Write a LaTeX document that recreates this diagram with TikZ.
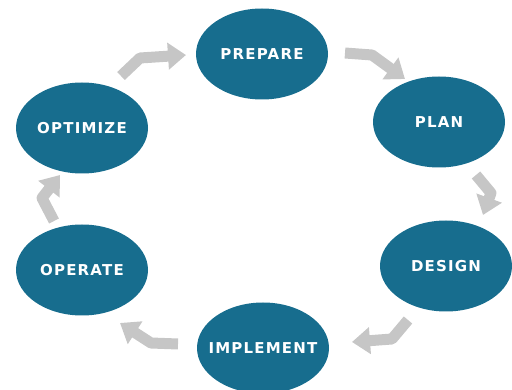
\documentclass[tikz,border=0pt]{standalone}
\usepackage{fontspec}
\setmainfont{DejaVu Sans}[LetterSpace=8]
\usetikzlibrary{arrows.meta,shapes.geometric}
\definecolor{phase}{HTML}{176D8E}
\definecolor{flow}{HTML}{C6C6C6}
\begin{document}
\begin{tikzpicture}[x=1pt,y=-1pt,
  phasenode/.style={ellipse, fill=phase, minimum width=132pt, minimum height=91pt,
    inner sep=0pt, label={[text=white, font=\bfseries\fontsize{15}{18}\selectfont]center:#1}},
  flowarrow/.style={draw=flow, line width=11pt, line join=round,
    -{Triangle[width=26pt,length=18pt]}}]
\useasboundingbox (0,0) rectangle (512,390);
\clip (0,0) rectangle (512,390);
% six phases of the cycle
\node[phasenode=PREPARE]   (prepare)   at (262,54)  {};
\node[phasenode=PLAN]      (plan)      at (439,122) {};
\node[phasenode=DESIGN]    (design)    at (446,266) {};
\node[phasenode=IMPLEMENT] (implement) at (263,348) {};
\node[phasenode=OPERATE]   (operate)   at (82,270)  {};
\node[phasenode=OPTIMIZE]  (optimize)  at (82,128)  {};
% bent arrows between neighbouring phases
\coordinate (a1s) at (121,76);  \coordinate (a1b) at (140,58);  \coordinate (a1e) at (186,55);
\coordinate (a2s) at (345,53);  \coordinate (a2b) at (372,55);  \coordinate (a2e) at (405,79);
\coordinate (a3s) at (476,175); \coordinate (a3b) at (491,193); \coordinate (a3e) at (483,215);
\coordinate (a4s) at (408,320); \coordinate (a4b) at (392,339); \coordinate (a4e) at (352,342);
\coordinate (a5s) at (178,344); \coordinate (a5b) at (151,343); \coordinate (a5e) at (120,323);
\coordinate (a6s) at (54,221);  \coordinate (a6b) at (42,198);  \coordinate (a6e) at (60,175);
\draw[flowarrow] (a1s) -- (a1b) -- (a1e);
\draw[flowarrow] (a2s) -- (a2b) -- (a2e);
\draw[flowarrow] (a3s) -- (a3b) -- (a3e);
\draw[flowarrow] (a4s) -- (a4b) -- (a4e);
\draw[flowarrow] (a5s) -- (a5b) -- (a5e);
\draw[flowarrow] (a6s) -- (a6b) -- (a6e);
\end{tikzpicture}
\end{document}
